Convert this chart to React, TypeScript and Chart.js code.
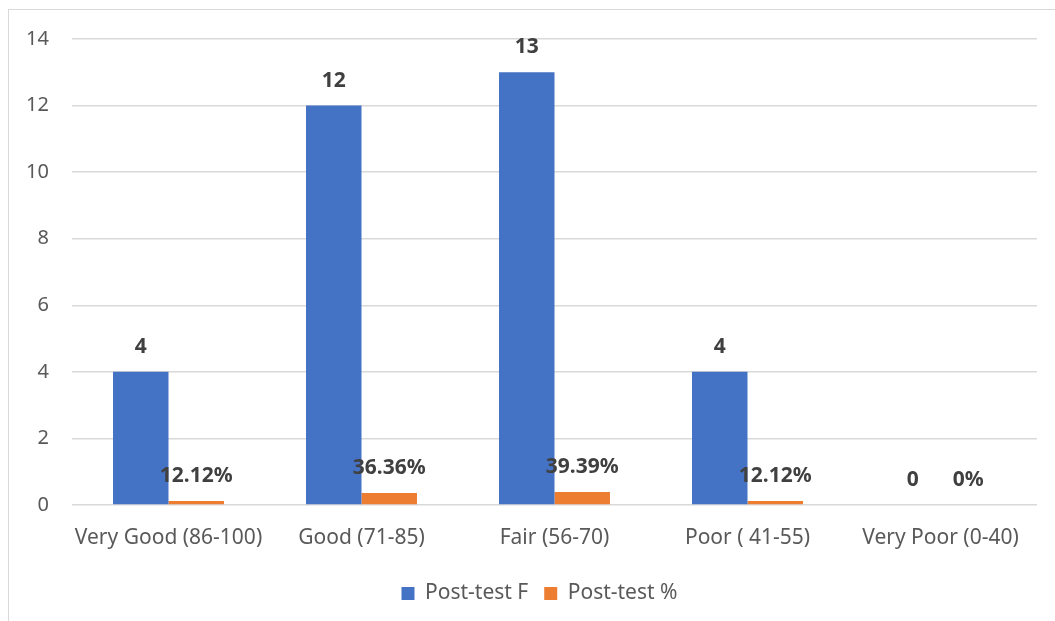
import React, { useEffect, useRef } from "react";
import { Chart, registerables } from "chart.js";

Chart.register(...registerables);

const categories = [
  "Very Good (86-100)",
  "Good (71-85)",
  "Fair (56-70)",
  "Poor ( 41-55)",
  "Very Poor (0-40)",
];
const postTestF = [4, 12, 13, 4, 0];
const postTestPct = [0.1212, 0.3636, 0.3939, 0.1212, 0];
const fLabels = ["4", "12", "13", "4", "0"];
const pctLabels = ["12.12%", "36.36%", "39.39%", "12.12%", "0%"];
const yTicks = [0, 2, 4, 6, 8, 10, 12, 14];

const FONT = "'Noto Sans', 'DejaVu Sans', sans-serif";

const dataLabelPlugin = {
  id: "dataLabels",
  afterDatasetsDraw(chart: any) {
    const ctx = chart.ctx;
    const labelSets = [fLabels, pctLabels];
    ctx.save();
    ctx.font = `bold 21px ${FONT}`;
    ctx.fillStyle = "#404040";
    ctx.textAlign = "center";
    ctx.textBaseline = "middle";
    chart.data.datasets.forEach((_ds: any, di: number) => {
      const meta = chart.getDatasetMeta(di);
      meta.data.forEach((el: any, i: number) => {
        ctx.fillText(labelSets[di][i], el.x, el.y - 25);
      });
    });
    ctx.restore();
  },
};

const legendShiftPlugin = {
  id: "legendShift",
  afterLayout(chart: any) {
    const lg = chart.legend;
    if (lg) {
      lg.left += 21;
      lg.right += 21;
    }
  },
};

export default function App() {
  const ref = useRef<HTMLCanvasElement | null>(null);

  useEffect(() => {
    if (!ref.current) return;
    const chart = new Chart(ref.current, {
      type: "bar",
      data: {
        labels: categories,
        datasets: [
          {
            label: "Post-test F",
            data: postTestF,
            backgroundColor: "#4472C4",
            barPercentage: 1,
            categoryPercentage: 0.575,
          },
          {
            label: "Post-test %",
            data: postTestPct,
            backgroundColor: "#ED7D31",
            barPercentage: 1,
            categoryPercentage: 0.575,
          },
        ],
      },
      options: {
        animation: false,
        responsive: false,
        maintainAspectRatio: false,
        layout: { padding: { left: 0, right: 18, top: 39, bottom: 7 } },
        plugins: {
          legend: {
            position: "bottom",
            labels: {
              boxWidth: 13,
              boxHeight: 13,
              padding: 16,
              color: "#595959",
              font: { family: FONT, size: 21 },
            },
          },
          tooltip: { enabled: false },
        },
        scales: {
          x: {
            grid: { display: false },
            border: { display: false },
            ticks: {
              color: "#595959",
              font: { family: FONT, size: 21 },
              padding: 12,
              maxRotation: 0,
              autoSkip: false,
            },
            afterFit(scale: any) {
              scale.height = 62;
            },
          },
          y: {
            min: 0,
            max: 14,
            afterBuildTicks(scale: any) {
              scale.ticks = yTicks.map((v) => ({ value: v }));
            },
            grid: { color: "#D9D9D9", lineWidth: 1.5, drawTicks: false },
            border: { display: false },
            ticks: {
              color: "#595959",
              font: { family: FONT, size: 20 },
              padding: 23,
            },
            afterFit(scale: any) {
              scale.width = 72;
            },
          },
        },
      },
      plugins: [dataLabelPlugin, legendShiftPlugin],
    });
    return () => chart.destroy();
  }, []);

  return (
    <div
      style={{
        position: "fixed",
        left: 0,
        top: 0,
        width: 1055,
        height: 621,
        overflow: "hidden",
        background: "#fff",
      }}
    >
      <div
        style={{
          position: "absolute",
          left: 8,
          top: 9,
          width: 1100,
          height: 700,
          borderTop: "1.5px solid #D9D9D9",
          borderLeft: "1.5px solid #D9D9D9",
        }}
      />
      <canvas
        ref={ref}
        width={1055}
        height={621}
        style={{ position: "absolute", left: 0, top: 0, width: 1055, height: 621 }}
      />
    </div>
  );
}
